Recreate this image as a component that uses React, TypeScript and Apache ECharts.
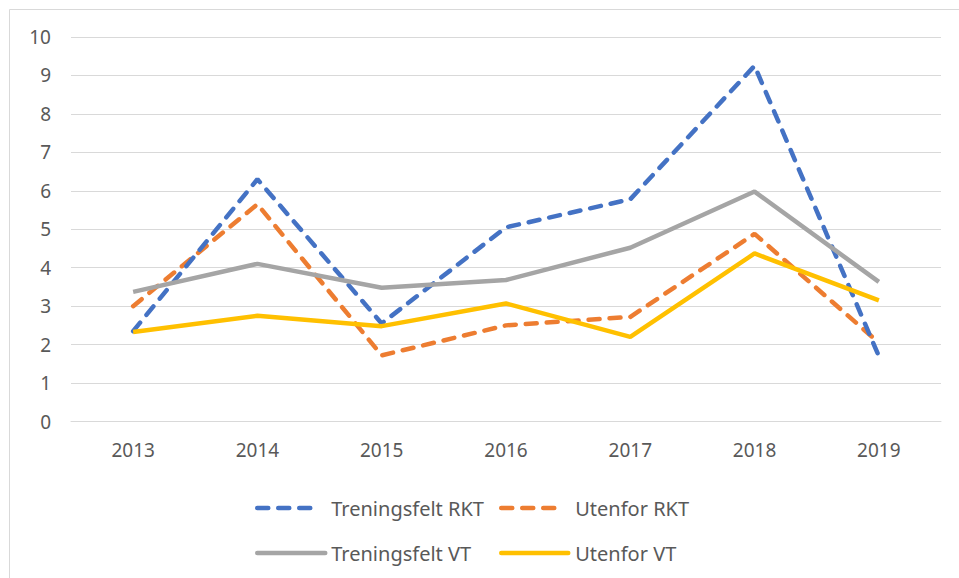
import React, { useEffect, useRef } from "react";
import * as echarts from "echarts";

const categories = ["2013", "2014", "2015", "2016", "2017", "2018", "2019"];
const treningsfeltRKT = [2.35, 6.3, 2.55, 5.05, 5.78, 9.25, 1.7];
const utenforRKT = [3.0, 5.65, 1.72, 2.5, 2.72, 4.88, 2.05];
const treningsfeltVT = [3.37, 4.1, 3.48, 3.68, 4.52, 5.98, 3.63];
const utenforVT = [2.33, 2.75, 2.48, 3.07, 2.2, 4.37, 3.15];

const FONT = "'Noto Sans', 'Open Sans', sans-serif";
const TEXT = "#595959";

export default function App() {
  const ref = useRef<HTMLDivElement>(null);
  useEffect(() => {
    if (!ref.current) return;
    const chart = echarts.init(ref.current, undefined, { renderer: "svg" });
    const dash = [11, 10];
    const mkLegend = (name: string, left: number, top: number, w: number, pad: number) => ({
      data: [name],
      left,
      top,
      itemWidth: w,
      itemHeight: 20,
      padding: 0,
      itemStyle: { opacity: 0, borderWidth: 0, color: "rgba(0,0,0,0)" },
      lineStyle: { width: 4.5, cap: "round" },
      textStyle: {
        color: TEXT,
        fontSize: 20,
        fontFamily: FONT,
        padding: [0, 0, 0, pad],
        lineHeight: 20,
      },
    });
    chart.setOption({
      animation: false,
      backgroundColor: "#ffffff",
      graphic: [
        {
          type: "rect",
          shape: { x: 9.5, y: 9.5, width: 1200, height: 1200 },
          style: { fill: "none", stroke: "#d9d9d9", lineWidth: 1 },
          silent: true,
        },
      ],
      grid: { left: 71, right: 18, top: 37, bottom: 156.5, containLabel: false },
      xAxis: {
        type: "category",
        data: categories,
        boundaryGap: true,
        axisLine: { show: true, lineStyle: { color: "#d9d9d9", width: 1 } },
        axisTick: { show: false },
        axisLabel: { color: TEXT, fontSize: 19, fontFamily: FONT, margin: 19 },
      },
      yAxis: {
        type: "value",
        min: 0,
        max: 10,
        interval: 1,
        axisLine: { show: false },
        axisTick: { show: false },
        splitLine: { lineStyle: { color: "#d9d9d9", width: 1 } },
        axisLabel: { color: TEXT, fontSize: 19, fontFamily: FONT, margin: 20 },
      },
      legend: [
        mkLegend("Treningsfelt RKT", 255, 498, 62, 7),
        mkLegend("Utenfor RKT", 499, 498, 62, 7),
        mkLegend("Treningsfelt VT", 255, 543, 68, 1),
        mkLegend("Utenfor VT", 499, 543, 67, 2),
      ],
      series: [
        {
          name: "Treningsfelt RKT",
          type: "line",
          data: treningsfeltRKT,
          symbol: "none",
          lineStyle: { color: "#4472C4", width: 4.5, type: dash, cap: "round" },
          itemStyle: { color: "#4472C4" },
          z: 4,
        },
        {
          name: "Utenfor RKT",
          type: "line",
          data: utenforRKT,
          symbol: "none",
          lineStyle: { color: "#ED7D31", width: 4.5, type: dash, cap: "round" },
          itemStyle: { color: "#ED7D31" },
          z: 3,
        },
        {
          name: "Treningsfelt VT",
          type: "line",
          data: treningsfeltVT,
          symbol: "none",
          lineStyle: { color: "#A5A5A5", width: 4.5 },
          itemStyle: { color: "#A5A5A5" },
          z: 5,
        },
        {
          name: "Utenfor VT",
          type: "line",
          data: utenforVT,
          symbol: "none",
          lineStyle: { color: "#FFC000", width: 4.5 },
          itemStyle: { color: "#FFC000" },
          z: 6,
        },
      ],
    });
    return () => chart.dispose();
  }, []);
  return (
    <div
      ref={ref}
      style={{ position: "fixed", left: 0, top: 0, width: 959, height: 578 }}
    />
  );
}
